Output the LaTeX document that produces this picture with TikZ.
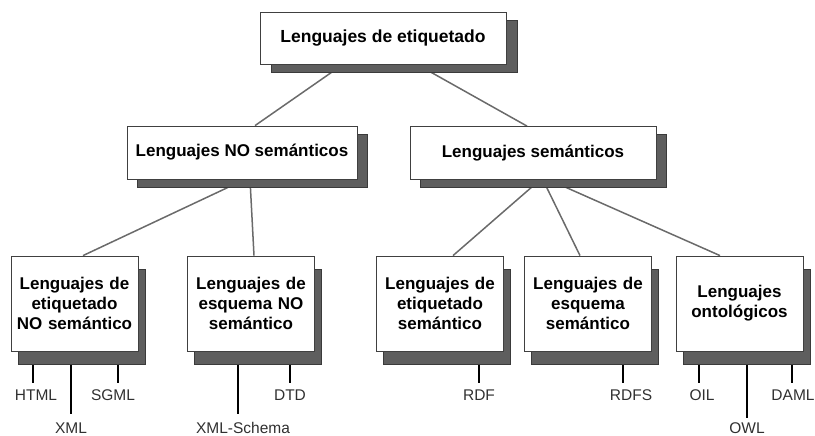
\documentclass[tikz,border=0pt]{standalone}
\usepackage{fontspec}
\setmainfont{Liberation Sans}
\usetikzlibrary{shadows,calc}
\pgfdeclarelayer{background}
\pgfsetlayers{background,main}
\definecolor{shadowfill}{HTML}{5E5E5E}
\definecolor{shadowedge}{HTML}{3A3A3A}
\definecolor{edgegray}{HTML}{6A6A6A}
\definecolor{leaftext}{HTML}{303030}
\tikzset{
  box/.style={draw=black!75, line width=0.8pt, fill=white, inner sep=0pt, align=center, text=black},
  topbox/.style={box, minimum width=246pt, minimum height=52pt, font=\bfseries\fontsize{17.5}{20}\selectfont,
    drop shadow={shadow xshift=11pt, shadow yshift=-8pt, fill=shadowfill, draw=shadowedge, opacity=1}},
  midbox/.style={box, minimum width=230pt, minimum height=53pt, font=\bfseries\fontsize{17}{20}\selectfont,
    drop shadow={shadow xshift=10pt, shadow yshift=-8pt, fill=shadowfill, draw=shadowedge, opacity=1}},
  lowbox/.style={box, minimum width=127pt, minimum height=95pt, text width=124pt, font=\bfseries\fontsize{17}{20}\selectfont,
    drop shadow={shadow xshift=7pt, shadow yshift=-13pt, fill=shadowfill, draw=shadowedge, opacity=1}},
  leaflab/.style={anchor=north, inner xsep=1pt, inner ysep=0pt, text height=11pt, text depth=0pt,
    text=leaftext, font=\fontsize{15.5}{18}\selectfont},
  edge/.style={draw=edgegray, line width=1.5pt},
  leaf/.style={draw=black, line width=2pt},
}
\begin{document}
\begin{tikzpicture}[x=1pt, y=-1pt]
\useasboundingbox (0,0) rectangle (815,436);
% boxes
\node[topbox] (top) at (383,38) {Lenguajes de etiquetado};
\node[midbox] (nosem) at (242,152.5) {Lenguajes NO semánticos};
\node[midbox, minimum width=246pt] (sem) at (533,153) {Lenguajes semánticos};
\node[lowbox] (b1) at (74.5,303.5) {Lenguajes de\\etiquetado\\NO semántico};
\node[lowbox] (b2) at (251,303.5) {Lenguajes de\\esquema NO\\semántico};
\node[lowbox] (b3) at (440,303.5) {Lenguajes de\\etiquetado\\semántico};
\node[lowbox] (b4) at (588,303.5) {Lenguajes de\\esquema\\semántico};
\node[lowbox] (b5) at (739.5,303.5) {Lenguajes\\ontológicos};
% leaf labels
\node[leaflab] (html) at (36,389) {HTML};
\node[leaflab] (xml) at (71,422) {XML};
\node[leaflab] (sgml) at (113,389) {SGML};
\node[leaflab] (xsd) at (243,422) {XML-Schema};
\node[leaflab] (dtd) at (290,389) {DTD};
\node[leaflab] (rdf) at (479,389) {RDF};
\node[leaflab] (rdfs) at (631,389) {RDFS};
\node[leaflab] (oil) at (702,389) {OIL};
\node[leaflab] (owl) at (747,422) {OWL};
\node[leaflab] (daml) at (793,389) {DAML};
% line ends above the labels
\coordinate (htmlt) at ($(html.north)+(-3,-6)$);
\coordinate (xmlt) at ($(xml.north)+(0,-8)$);
\coordinate (sgmlt) at ($(sgml.north)+(5,-6)$);
\coordinate (xsdt) at ($(xsd.north)+(-5,-8)$);
\coordinate (dtdt) at ($(dtd.north)+(0,-6)$);
\coordinate (rdft) at ($(rdf.north)+(0,-6)$);
\coordinate (rdfst) at ($(rdfs.north)+(-8,-6)$);
\coordinate (oilt) at ($(oil.north)+(-3,-6)$);
\coordinate (owlt) at ($(owl.north)+(0,-4)$);
\coordinate (damlt) at ($(daml.north)+(-1,-6)$);
\begin{pgfonlayer}{background}
\draw[edge] (top.south -| 343,0) -- (nosem.north -| 255,0);
\draw[edge] (top.south -| 417,0) -- (sem.north -| 527,0);
\draw[edge] (nosem.south -| 245,0) -- (b1.north -| 83,0);
\draw[edge] (nosem.south -| 250,0) -- (b2.north -| 254,0);
\draw[edge] (sem.south -| 540,0) -- (b3.north -| 453,0);
\draw[edge] (sem.south -| 543,0) -- (b4.north -| 580,0);
\draw[edge] (sem.south -| 549,0) -- (b5.north -| 720,0);
\draw[leaf] (htmlt |- b1.south) -- (htmlt);
\draw[leaf] (xmlt |- b1.south) -- (xmlt);
\draw[leaf] (sgmlt |- b1.south) -- (sgmlt);
\draw[leaf] (xsdt |- b2.south) -- (xsdt);
\draw[leaf] (dtdt |- b2.south) -- (dtdt);
\draw[leaf] (rdft |- b3.south) -- (rdft);
\draw[leaf] (rdfst |- b4.south) -- (rdfst);
\draw[leaf] (oilt |- b5.south) -- (oilt);
\draw[leaf] (owlt |- b5.south) -- (owlt);
\draw[leaf] (damlt |- b5.south) -- (damlt);
\end{pgfonlayer}
\end{tikzpicture}
\end{document}
